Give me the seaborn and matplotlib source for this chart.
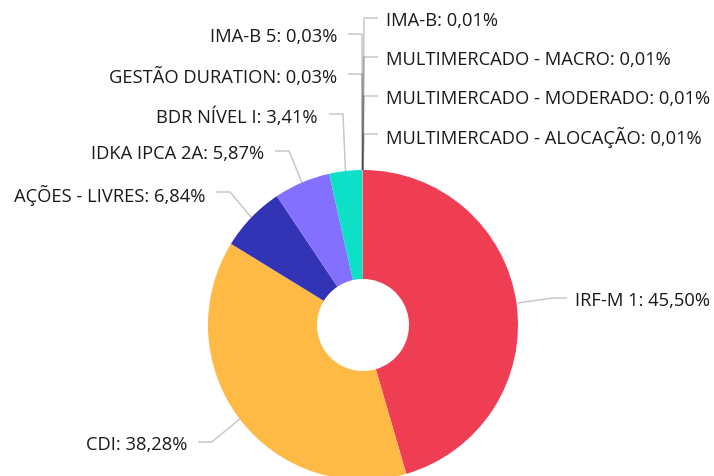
import numpy as np
import matplotlib
matplotlib.use("Agg")
import matplotlib.pyplot as plt
import seaborn as sns

# dados da carteira (% por segmento), em sentido horário a partir do topo
categorias = ['IRF-M 1', 'CDI', 'AÇÕES - LIVRES', 'IDKA IPCA 2A', 'BDR NÍVEL I',
              'GESTÃO DURATION', 'IMA-B 5', 'IMA-B', 'MULTIMERCADO - MACRO',
              'MULTIMERCADO - MODERADO', 'MULTIMERCADO - ALOCAÇÃO']
percentuais = [45.50, 38.28, 6.84, 5.87, 3.41, 0.03, 0.03, 0.01, 0.01, 0.01, 0.01]
cores = ['#EF3D54', '#FFB945', '#3333B5', '#8470FF', '#0EE0C8',
         '#434348', '#90ED7D', '#F7A35C', '#8085E9', '#F15C80', '#E4D354']

# posição dos rótulos (y em pixels, x do cotovelo, lado)
rotulo_y = [299, 443, 193, 152, 115, 75, 35, 19, 58, 97, 135]
cotovelo_x = [553, 212, 230, 289, 343, 362, 362, 364, 364, 364, 364]
lado = ['d', 'e', 'e', 'e', 'e', 'e', 'e', 'd', 'd', 'd', 'd']

W, H = 714, 477
sns.set_theme(style="white")
plt.rcParams['font.family'] = ['Open Sans', 'DejaVu Sans']

fig = plt.figure(figsize=(W / 100, H / 100), dpi=100)
ax = fig.add_axes([0, 0, 1, 1])

centro = (363, H - 326)
raio = 155
wedges, _ = ax.pie(percentuais, colors=cores, startangle=90, counterclock=False,
                   center=centro, radius=raio, frame=True,
                   wedgeprops=dict(width=raio * 0.703, linewidth=0))

def fmt(v):
    return f'{v:.2f}'.replace('.', ',') + '%'

for w, nome, v, ly, cx, s in zip(wedges, categorias, percentuais, rotulo_y, cotovelo_x, lado):
    ang = np.deg2rad((w.theta1 + w.theta2) / 2)
    px = centro[0] + raio * np.cos(ang)
    py = centro[1] + raio * np.sin(ang)
    y = H - ly
    if s == 'e':
        fim = cx - 14
        tx, ha = fim - 11, 'right'
    else:
        fim = cx + 14
        tx, ha = fim + 8, 'left'
    ax.plot([px, cx, fim], [py, y, y], color='black', alpha=0.22, lw=1.1,
            solid_capstyle='butt', zorder=1)
    ax.text(tx, y - 2, f'{nome}: {fmt(v)}', ha=ha, va='center',
            fontsize=13.2, color='#1a1a1a')

ax.set_xlim(0, W)
ax.set_ylim(0, H)
ax.set_aspect('equal')
ax.axis('off')
fig.savefig('out.png', dpi=100)
